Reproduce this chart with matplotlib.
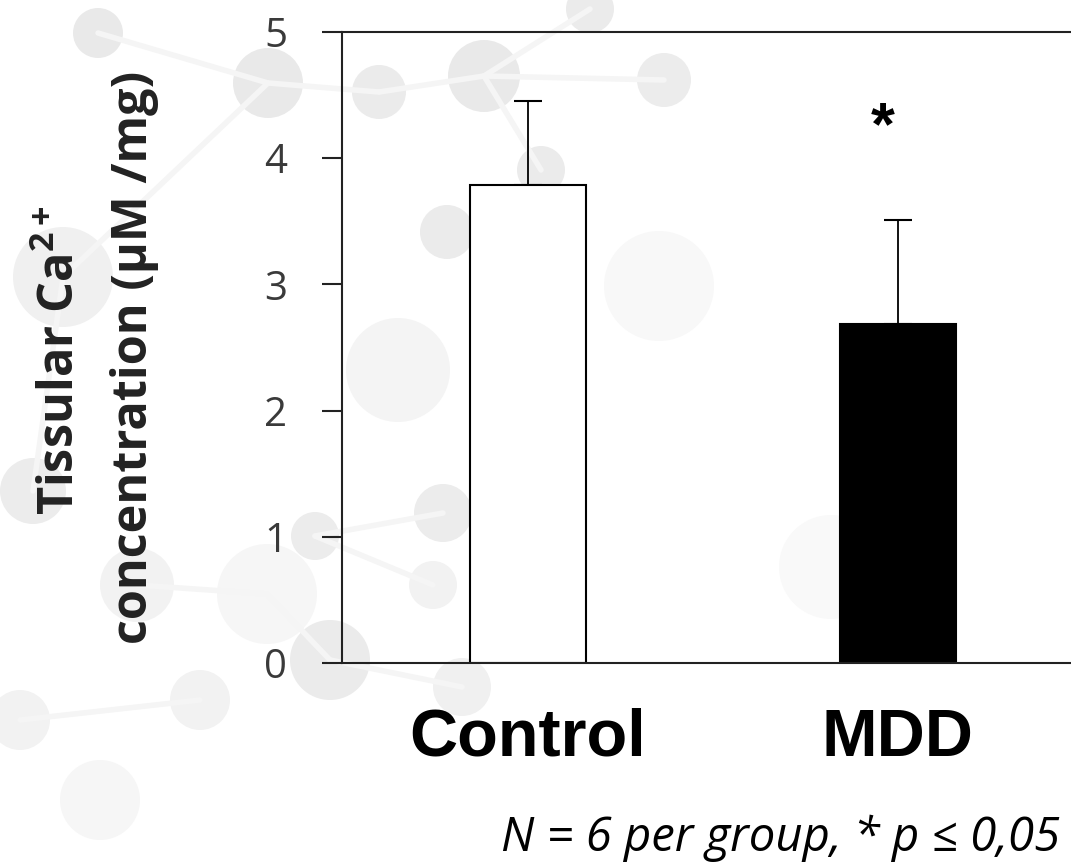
import numpy as np
import matplotlib
matplotlib.use("Agg")
import matplotlib.pyplot as plt
from matplotlib.patches import Circle

groups = ["Control", "MDD"]
means = [3.79, 2.69]
errors = [0.66, 0.82]
yticks = [0, 1, 2, 3, 4, 5]
footnote = "N = 6 per group, * p \u2264 0,05"

plt.rcParams['mathtext.default'] = 'regular'

fig = plt.figure(figsize=(10.71, 8.67), dpi=100)

# faint molecule decoration in the background (pixel coords)
bg = fig.add_axes([0, 0, 1, 1], zorder=0)
bg.set_xlim(0, 1071)
bg.set_ylim(867, 0)
bg.axis('off')
nodes = [
    (98, 33, 25, '#e9e9e9'), (268, 83, 35, '#e9e9e9'), (379, 92, 27, '#ebebeb'),
    (484, 76, 36, '#e9e9e9'), (590, 9, 24, '#ebebeb'), (664, 80, 27, '#ececec'),
    (541, 170, 24, '#ebebeb'), (447, 232, 27, '#ebebeb'), (63, 277, 50, '#f0f0f0'),
    (659, 286, 55, '#f8f8f8'), (398, 370, 52, '#f4f4f4'), (33, 491, 33, '#ececec'),
    (443, 513, 29, '#ececec'), (315, 536, 24, '#ececec'), (433, 585, 24, '#f2f2f2'),
    (137, 585, 37, '#f2f2f2'), (267, 594, 50, '#f6f6f6'), (330, 660, 40, '#ebebeb'),
    (831, 567, 52, '#f9f9f9'), (462, 687, 29, '#f0f0f0'), (200, 700, 30, '#f2f2f2'),
    (20, 720, 30, '#f2f2f2'), (100, 800, 40, '#f6f6f6'),
]
links = [(0, 1), (1, 2), (2, 3), (3, 4), (3, 5), (3, 6), (1, 8), (8, 11),
         (12, 13), (13, 14), (15, 16), (16, 17), (17, 19), (20, 21)]
for a, b in links:
    bg.plot([nodes[a][0], nodes[b][0]], [nodes[a][1], nodes[b][1]],
            color='#f5f5f5', lw=4, solid_capstyle='round')
for x, y, r, c in nodes:
    bg.add_patch(Circle((x, y), r, color=c, lw=0))

ax = fig.add_axes([342 / 1071, 204 / 867, 1 - 342 / 1071, 631 / 867], zorder=1)
ax.patch.set_alpha(0)

x = np.arange(len(groups))
ax.bar(x, means, width=0.314, color=['white', 'black'], edgecolor='black',
       linewidth=1.5, zorder=2)
ax.errorbar(x, means, yerr=[np.zeros(len(errors)), errors], fmt='none',
            ecolor='black', elinewidth=1.3, capsize=10, capthick=1.5, zorder=1)

ax.text(0.96, 4.23, '*', ha='center', va='center', fontsize=44,
        fontweight='bold', family='Liberation Sans')

ax.set_xlim(-0.503, 1.468)
ax.set_ylim(0, 5)
ax.set_yticks(yticks)
ax.set_yticklabels([str(t) for t in yticks], family='Open Sans', fontsize=29,
                   color='#3a3a3a')
ax.set_xticks([])
ax.spines['right'].set_visible(False)
for s in ['left', 'top', 'bottom']:
    ax.spines[s].set_linewidth(1.5)
    ax.spines[s].set_color('#222222')
ax.tick_params(axis='y', direction='out', length=14.5, width=1.5,
               color='#222222', pad=25)

for xi, g in zip(x, groups):
    ax.text(xi, -0.6, g, transform=ax.transData, ha='center', va='center',
            fontsize=48, fontweight='bold', family='Liberation Sans',
            clip_on=False)

fig.text(62 / 1071, 1 - 360 / 867, 'Tissular Ca$^{2+}$', rotation=90,
         ha='center', va='center', fontsize=35, fontweight='bold',
         family='Open Sans', color='#222222')
fig.text(135 / 1071, 1 - 357 / 867, 'concentration (\u00b5M /mg)', rotation=90,
         ha='center', va='center', fontsize=35, fontweight='bold',
         family='Open Sans', color='#222222')

fig.text(1060 / 1071, 1 - 851 / 867, footnote, ha='right', va='baseline',
         fontsize=34, style='italic', family=['Open Sans', 'DejaVu Sans'])

fig.savefig('out.png', dpi=100)
